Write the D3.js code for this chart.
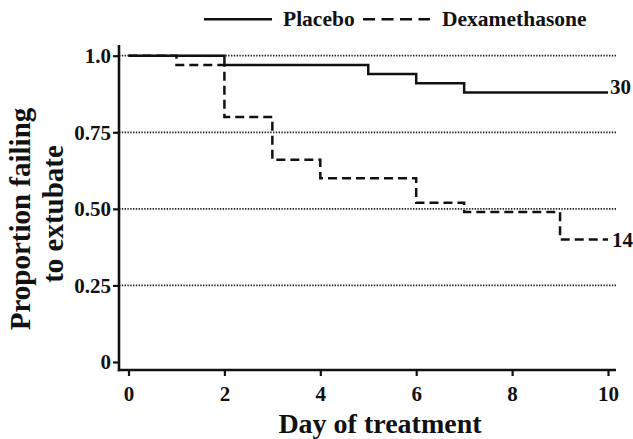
<!DOCTYPE html>
<html>
<head>
<meta charset="utf-8">
<script src="https://cdn.jsdelivr.net/npm/d3@7"></script>
<style>
  html, body { margin: 0; padding: 0; background: #fff; }
  svg { display: block; }
  text { font-family: "Liberation Serif", "Times New Roman", serif; font-weight: bold; fill: #111; }
</style>
</head>
<body>
<svg id="chart" width="633" height="439"></svg>
<script>
// ---- data ----
const xTicks = [0, 2, 4, 6, 8, 10];
const yTicks = [0, 0.25, 0.5, 0.75, 1.0];
const yTickLabels = ["0", "0.25", "0.50", "0.75", "1.0"];
const gridValues = [0.25, 0.5, 0.75, 1.0];

const placeboDays = [0, 2, 5, 6, 7, 10];
const placeboValues = [1.0, 0.97, 0.94, 0.91, 0.88, 0.88];
const dexDays = [0, 1, 2, 3, 4, 6, 7, 9, 10];
const dexValues = [1.0, 0.97, 0.80, 0.66, 0.60, 0.52, 0.49, 0.40, 0.40];

const seriesNames = ["Placebo", "Dexamethasone"];
const endLabels = ["30", "14"];

// ---- layout ----
const svg = d3.select("#chart");
const x = d3.scaleLinear().domain([0, 10]).range([128.5, 608]);
const y = d3.scaleLinear().domain([0, 1]).range([362, 55.7]);
const axisX = 119, axisY = 370, axisRight = 616, axisTop = 45;
const ink = "#111";

// gridlines (dotted)
svg.append("g").selectAll("line").data(gridValues).join("line")
  .attr("x1", axisX).attr("x2", axisRight)
  .attr("y1", d => y(d)).attr("y2", d => y(d))
  .attr("stroke", "#222").attr("stroke-width", 1.8)
  .attr("stroke-dasharray", "1.4,1.4");

// y axis
const yAxis = d3.axisLeft(y).tickValues(yTicks)
  .tickFormat((d, i) => yTickLabels[i]).tickSize(6).tickPadding(2);
const gy = svg.append("g").attr("transform", `translate(${axisX},0)`).call(yAxis);
gy.select(".domain").remove();
gy.selectAll(".tick line").attr("stroke", ink).attr("stroke-width", 2.2);
gy.selectAll(".tick text").attr("font-size", 21).attr("fill", ink)
  .style("font-family", '"Liberation Serif", serif').style("font-weight", "bold");

// x axis
const xAxis = d3.axisBottom(x).tickValues(xTicks).tickSize(6).tickPadding(10);
const gx = svg.append("g").attr("transform", `translate(0,${axisY})`).call(xAxis);
gx.select(".domain").remove();
gx.selectAll(".tick line").attr("stroke", ink).attr("stroke-width", 2.2);
gx.selectAll(".tick text").attr("font-size", 21).attr("fill", ink)
  .style("font-family", '"Liberation Serif", serif').style("font-weight", "bold");

// axis lines
svg.append("line").attr("x1", axisX).attr("x2", axisX).attr("y1", axisTop).attr("y2", axisY + 1.2)
  .attr("stroke", ink).attr("stroke-width", 2.6);
svg.append("line").attr("x1", axisX - 1.2).attr("x2", axisRight).attr("y1", axisY).attr("y2", axisY)
  .attr("stroke", ink).attr("stroke-width", 2.6);

// survival curves
const line = d3.line().curve(d3.curveStepAfter).x(d => x(d[0])).y(d => y(d[1]));
const placebo = d3.zip(placeboDays, placeboValues);
const dex = d3.zip(dexDays, dexValues);

svg.append("path").datum(placebo).attr("d", line)
  .attr("fill", "none").attr("stroke", ink).attr("stroke-width", 2.5);
svg.append("path").datum(dex).attr("d", line)
  .attr("fill", "none").attr("stroke", ink).attr("stroke-width", 2.5)
  .attr("stroke-dasharray", "9,5");

// end labels
svg.append("text").attr("x", x(10) + 2).attr("y", y(placeboValues[placeboValues.length - 1]) + 2)
  .attr("font-size", 21).text(endLabels[0]);
svg.append("text").attr("x", x(10) + 4).attr("y", y(dexValues[dexValues.length - 1]) + 8)
  .attr("font-size", 21).text(endLabels[1]);

// legend
svg.append("line").attr("x1", 204).attr("x2", 272).attr("y1", 19.3).attr("y2", 19.3)
  .attr("stroke", ink).attr("stroke-width", 2.6);
svg.append("text").attr("x", 283).attr("y", 26).attr("font-size", 21.5).text(seriesNames[0]);
svg.append("line").attr("x1", 363).attr("x2", 430).attr("y1", 19.3).attr("y2", 19.3)
  .attr("stroke", ink).attr("stroke-width", 2.6).attr("stroke-dasharray", "12,6.5");
svg.append("text").attr("x", 442).attr("y", 26).attr("font-size", 21.5).text(seriesNames[1]);

// axis titles
svg.append("text").attr("x", 380).attr("y", 433).attr("text-anchor", "middle")
  .attr("font-size", 28).text("Day of treatment");
svg.append("text").attr("transform", "translate(30,219) rotate(-90)")
  .attr("text-anchor", "middle").attr("font-size", 29).text("Proportion failing");
svg.append("text").attr("transform", "translate(63,214) rotate(-90)")
  .attr("text-anchor", "middle").attr("font-size", 29).text("to extubate");
</script>
</body>
</html>
